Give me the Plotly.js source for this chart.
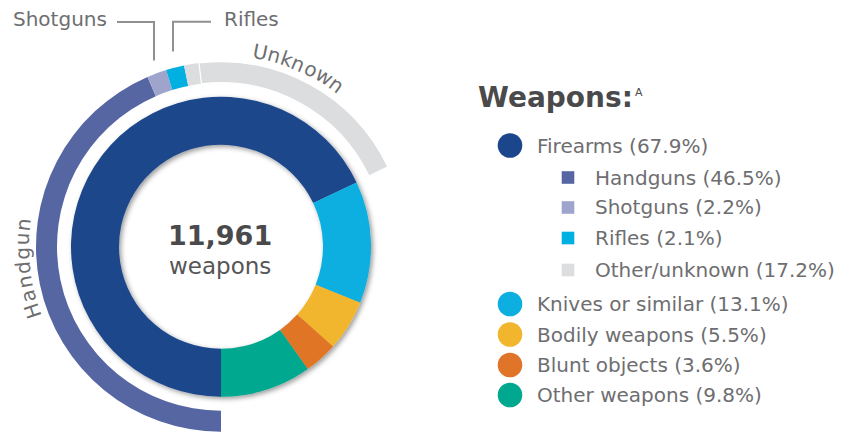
<!DOCTYPE html>
<html>
<head>
<meta charset="utf-8">
<script src="https://cdn.plot.ly/plotly-3.0.1.min.js"></script>
<style>
html,body{margin:0;padding:0;background:#fff;overflow:hidden;}
#chart{width:855px;height:433px;}
</style>
</head>
<body>
<div id="chart"></div>
<script>
// ---------- DATA ----------
const totalWeapons = 11961;
const categories = ['Firearms', 'Knives or similar', 'Bodily weapons', 'Blunt objects', 'Other weapons'];
const categoryShares = [67.9, 13.1, 5.5, 3.6, 9.8];
const categoryColors = ['#1c468b', '#0cafe0', '#f1b52e', '#e07428', '#00a88f'];

const firearmTypes = ['Handguns', 'Shotguns', 'Rifles', 'Other/unknown'];
const firearmShares = [46.5, 2.2, 2.1, 17.2];
const firearmColors = ['#5566a3', '#9fa4cc', '#00b0e0', '#dcdddf'];

const ringLabels = ['Handgun', 'Shotguns', 'Rifles', 'Other', 'Unknown', ''];
const ringValues = [43.5, 1.7, 1.6, 1.3, 19.8, 32.1];
const ringColors = ['#5566a3', '#9fa4cc', '#00b0e0', '#dcdddf', '#dcdddf', 'rgba(0,0,0,0)'];

// ---------- LAYOUT HELPERS ----------
const W = 855, H = 433;
const CX = 221, CY = 246.7;
const R_IN = 150, HOLE_IN = 102;
const R_OUT = 185, HOLE_OUT = 164;
const FONT = '"DejaVu Sans", sans-serif';
const TXT = '#6e6e71';
const px = x => x / W;
const py = y => 1 - y / H;

function fmt(n){ return n.toString().replace(/\B(?=(\d{3})+(?!\d))/g, ','); }

const measCtx = document.createElement('canvas').getContext('2d');
function arcText(str, a0, a1, r, size, color){
  measCtx.font = size + 'px "DejaVu Sans"';
  const ws = [...str].map(c => measCtx.measureText(c).width);
  const centers = []; let cum = 0;
  ws.forEach(w => { centers.push(cum + w/2); cum += w; });
  const span = centers[centers.length-1] - centers[0];
  return [...str].map((c, i) => {
    const t = a0 + (a1 - a0) * (centers[i] - centers[0]) / span;
    const rad = t * Math.PI / 180;
    const x = CX + r * Math.sin(rad), y = CY - r * Math.cos(rad);
    let ang = t; if (ang > 180) ang -= 360;
    return {x: px(x), y: py(y), xref:'paper', yref:'paper', text: c, showarrow:false,
      textangle: ang, xanchor:'center', yanchor:'middle',
      font:{family: FONT, size: size, color: color}};
  });
}

// ---------- TRACES ----------
const outer = {
  type:'pie', values: ringValues, labels: ringLabels, sort:false,
  direction:'clockwise', rotation:180, hole: HOLE_OUT / R_OUT,
  marker:{colors: ringColors, line:{color:'#ffffff', width:[0,0,0,0,1.2,0]}},
  textinfo:'none', hoverinfo:'label', showlegend:false,
  domain:{x:[px(CX-R_OUT), px(CX+R_OUT)], y:[py(CY+R_OUT), py(CY-R_OUT)]}
};
const inner = {
  type:'pie', values: categoryShares, labels: categories, sort:false,
  direction:'clockwise', rotation:180, hole: HOLE_IN / R_IN,
  marker:{colors: categoryColors, line:{width:0}},
  textinfo:'none', hoverinfo:'label+value', showlegend:false,
  domain:{x:[px(CX-R_IN), px(CX+R_IN)], y:[py(CY+R_IN), py(CY-R_IN)]}
};

// ---------- ANNOTATIONS & SHAPES ----------
const ann = [];
const shapes = [];

ann.push({x:px(CX-1), y:py(235), xref:'paper', yref:'paper', text:'<b>'+fmt(totalWeapons)+'</b>',
  showarrow:false, font:{family:FONT, size:27, color:'#4a4a4c'}, xanchor:'center', yanchor:'middle'});
ann.push({x:px(CX-1), y:py(266), xref:'paper', yref:'paper', text:'weapons',
  showarrow:false, font:{family:FONT, size:23, color:'#555557'}, xanchor:'center', yanchor:'middle'});

// heading
ann.push({x:px(476), y:py(97), xref:'paper', yref:'paper', text:'<b>Weapons:</b>',
  showarrow:false, font:{family:FONT, size:28, color:'#4a4a4c'}, xanchor:'left', yanchor:'middle'});
ann.push({x:px(633), y:py(93), xref:'paper', yref:'paper', text:'A',
  showarrow:false, font:{family:FONT, size:11, color:'#4a4a4c'}, xanchor:'left', yanchor:'middle'});

// legend rows
const circleRows = [145.5, 304, 334.5, 365, 395];
const squareRows = [177.5, 207.5, 238, 270];
categories.forEach((c, i) => {
  const y = circleRows[i];
  shapes.push({type:'circle', xref:'paper', yref:'paper',
    x0:px(510-12.3), x1:px(510+12.3), y0:py(y+12.3), y1:py(y-12.3),
    fillcolor: categoryColors[i], line:{width:0}});
  ann.push({x:px(535), y:py(y), xref:'paper', yref:'paper',
    text: c + ' (' + categoryShares[i].toFixed(1) + '%)', showarrow:false,
    font:{family:FONT, size:20, color:TXT}, xanchor:'left', yanchor:'middle'});
});
firearmTypes.forEach((c, i) => {
  const y = squareRows[i];
  shapes.push({type:'rect', xref:'paper', yref:'paper',
    x0:px(568-6.3), x1:px(568+6.3), y0:py(y+6.3), y1:py(y-6.3),
    fillcolor: firearmColors[i], line:{width:0}});
  ann.push({x:px(593), y:py(y), xref:'paper', yref:'paper',
    text: c + ' (' + firearmShares[i].toFixed(1) + '%)', showarrow:false,
    font:{family:FONT, size:20, color:TXT}, xanchor:'left', yanchor:'middle'});
});

// ring labels
ann.push({x:px(109), y:py(19), xref:'paper', yref:'paper', text: ringLabels[1], showarrow:false,
  font:{family:FONT, size:20, color:TXT}, xanchor:'right', yanchor:'middle'});
ann.push({x:px(222), y:py(19), xref:'paper', yref:'paper', text: ringLabels[2], showarrow:false,
  font:{family:FONT, size:20, color:TXT}, xanchor:'left', yanchor:'middle'});
shapes.push({type:'path', xref:'paper', yref:'paper',
  path:`M${px(117)},${py(22)} L${px(154)},${py(22)} L${px(154)},${py(60.5)}`,
  line:{color:'#909090', width:2}});
shapes.push({type:'path', xref:'paper', yref:'paper',
  path:`M${px(211)},${py(21.7)} L${px(173)},${py(21.7)} L${px(173)},${py(51.5)}`,
  line:{color:'#909090', width:2}});

arcText(ringLabels[4], 11.4, 35.6, 199, 20, TXT).forEach(a => ann.push(a));
arcText(ringLabels[0], 251.2, 276.3, 199, 20, TXT).forEach(a => ann.push(a));

const layout = {
  width: W, height: H,
  margin:{l:0, r:0, t:0, b:0},
  paper_bgcolor:'#ffffff', plot_bgcolor:'#ffffff',
  showlegend:false,
  annotations: ann, shapes: shapes
};

Plotly.newPlot('chart', [outer, inner], layout, {displayModeBar:false, staticPlot:true}).then(() => {
  const svg = document.querySelector('#chart .main-svg');
  const NS = 'http://www.w3.org/2000/svg';
  let defs = svg.querySelector('defs');
  if (!defs) { defs = document.createElementNS(NS, 'defs'); svg.insertBefore(defs, svg.firstChild); }
  const f = document.createElementNS(NS, 'filter');
  f.setAttribute('id', 'donutShadow');
  f.setAttribute('x', '-20%'); f.setAttribute('y', '-20%');
  f.setAttribute('width', '140%'); f.setAttribute('height', '140%');
  const ds = document.createElementNS(NS, 'feDropShadow');
  ds.setAttribute('dx', '2'); ds.setAttribute('dy', '2');
  ds.setAttribute('stdDeviation', '2.5');
  ds.setAttribute('flood-color', '#000'); ds.setAttribute('flood-opacity', '0.4');
  f.appendChild(ds); defs.appendChild(f);
  const traces = document.querySelectorAll('#chart .pielayer .trace');
  if (traces[1]) traces[1].setAttribute('filter', 'url(#donutShadow)');
});
</script>
</body>
</html>
